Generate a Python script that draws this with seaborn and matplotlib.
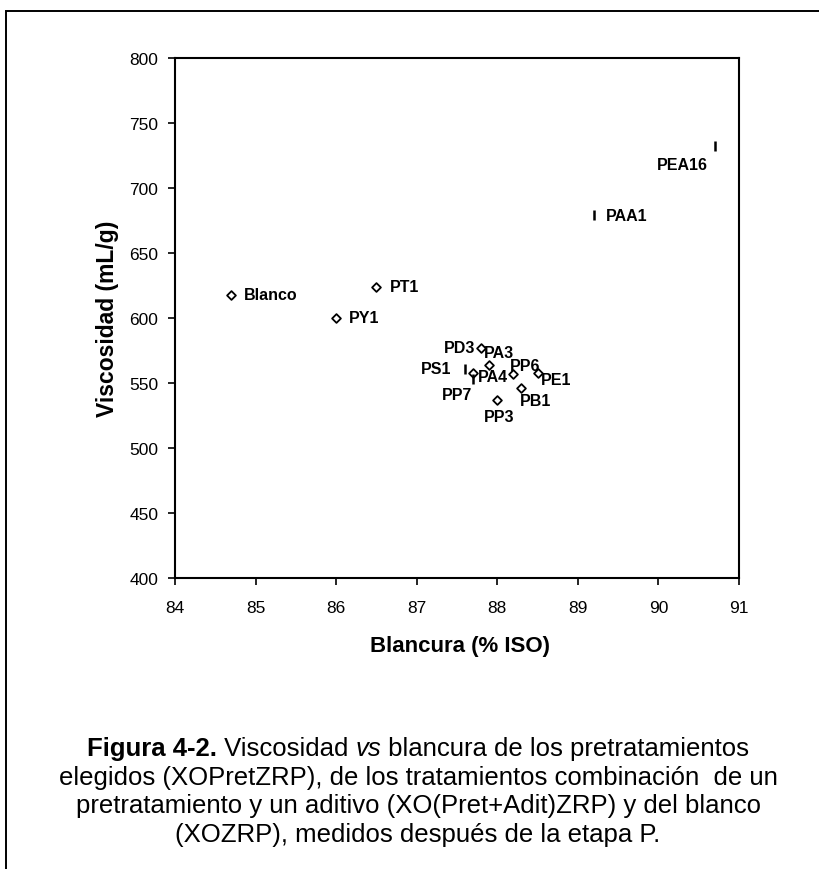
import matplotlib
matplotlib.use("Agg")
import matplotlib.pyplot as plt
import seaborn as sns
import pandas as pd
from matplotlib.patches import Rectangle

# ---- data ----
labels = ["Blanco", "PT1", "PY1", "PAA1", "PEA16", "PD3", "PA3", "PS1",
          "PA4", "PP7", "PP6", "PE1", "PB1", "PP3"]
blancura = [84.7, 86.5, 86.0, 89.2, 90.7, 87.8, 87.9, 87.6,
            87.7, 87.7, 88.2, 88.5, 88.3, 88.0]
viscosidad = [618, 624, 600, 679, 732, 577, 564, 561,
              558, 553, 557, 558, 546, 537]
grupo = ["rombo", "rombo", "rombo", "barra", "barra", "rombo", "rombo", "barra",
         "rombo", "barra", "rombo", "rombo", "rombo", "rombo"]
x_ticks = [84, 85, 86, 87, 88, 89, 90, 91]
y_ticks = [400, 450, 500, 550, 600, 650, 700, 750, 800]

# label offsets in pixels (dx, dy, ha)
offsets = {
    "Blanco": (12, 0, "left"), "PT1": (13, 0, "left"), "PY1": (13, 0, "left"),
    "PAA1": (12, 0, "left"), "PEA16": (-7, -18, "right"), "PD3": (-6, 0, "right"),
    "PA3": (-5, 12, "left"), "PS1": (-14, 0, "right"), "PA4": (5, -4, "left"),
    "PP7": (-1, -15, "right"), "PP6": (-4, 8, "left"), "PE1": (3, -7, "left"),
    "PB1": (-2, -12, "left"), "PP3": (2, -17, "center"),
}

df = pd.DataFrame({"label": labels, "x": blancura, "y": viscosidad, "g": grupo})

sns.set_theme(style="white")
plt.rcParams["font.family"] = ["Liberation Sans", "DejaVu Sans"]

fig = plt.figure(figsize=(8.2, 8.7), dpi=100)
ax = fig.add_axes([175/820, 1-579/870, (739-175)/820, (579-59)/870])

d1 = df[df.g == "rombo"]
d2 = df[df.g == "barra"]
sns.scatterplot(data=d1, x="x", y="y", ax=ax, marker="D", s=20,
                facecolor="white", edgecolor="black", linewidth=1.3, zorder=3)
sns.scatterplot(data=d2, x="x", y="y", ax=ax, marker="|", s=45,
                color="black", linewidth=1.8, zorder=3)

for _, r in df.iterrows():
    dx, dy, ha = offsets[r.label]
    ax.annotate(r.label, (r.x, r.y), xytext=(dx, dy), textcoords="offset pixels",
                ha=ha, va="center", fontsize=11.5, fontweight="bold", color="black")

ax.set_xlim(84, 91)
ax.set_ylim(400, 800)
ax.set_xticks(x_ticks)
ax.set_yticks(y_ticks)
ax.set_xticklabels([str(v) for v in x_ticks])
ax.set_yticklabels([str(v) for v in y_ticks])
ax.tick_params(axis="both", direction="out", length=5, width=1.2, colors="black",
               labelsize=12.5, left=True, bottom=True)
ax.tick_params(axis="x", pad=11)
ax.tick_params(axis="y", pad=7)
for s in ax.spines.values():
    s.set_color("black")
    s.set_linewidth(1.5)
ax.set_xlabel("Blancura (% ISO)", fontsize=16, fontweight="bold", color="black")
ax.set_ylabel("Viscosidad (mL/g)", fontsize=16.5, fontweight="bold", color="black")
ax.yaxis.set_label_coords(-0.099, 0.5)
ax.xaxis.set_label_coords(0.505, -0.11)

# outer frame
fig.patches.append(Rectangle((6/820, -0.2), 1.5, 1.2 - 12/870, transform=fig.transFigure,
                             fill=False, edgecolor="black", linewidth=1.4, clip_on=False))

# caption
cap_font = ["Liberation Sans", "DejaVu Sans"]
cap_size = 18.5
lines = [
    [("Figura 4-2.", "normal", "bold"), (" Viscosidad ", "normal", "normal"),
     ("vs", "italic", "normal"), (" blancura de los pretratamientos", "normal", "normal")],
    [("elegidos (XOPretZRP), de los tratamientos combinación  de un", "normal", "normal")],
    [("pretratamiento y un aditivo (XO(Pret+Adit)ZRP) y del blanco", "normal", "normal")],
    [("(XOZRP), medidos después de la etapa P.", "normal", "normal")],
]
centers_y = [748, 777, 805, 834]
renderer = fig.canvas.get_renderer()
cx = 418
for line, yc in zip(lines, centers_y):
    arts = []
    for txt, style, weight in line:
        t = fig.text(0, 0, txt, fontsize=cap_size, family=cap_font, style=style,
                     fontweight=weight, ha="left", va="baseline", color="black",
                     transform=None)
        arts.append(t)
    widths = [a.get_window_extent(renderer).width for a in arts]
    total = sum(widths)
    x = cx - total / 2
    ybase = 870 - (yc + 8)
    for a, w in zip(arts, widths):
        a.set_position((x, ybase))
        x += w

fig.savefig("out.png", dpi=100)
